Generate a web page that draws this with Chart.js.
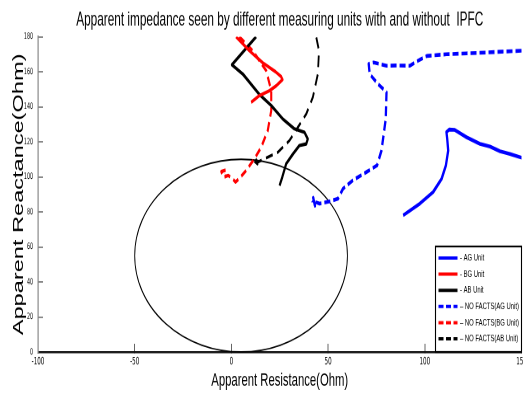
<!DOCTYPE html>
<html>
<head>
<meta charset="utf-8">
<script src="https://cdn.jsdelivr.net/npm/chart.js@4.4.1/dist/chart.umd.min.js"></script>
<style>
  html, body { margin: 0; padding: 0; background: #fff; overflow: hidden; }
  #chart { display: block; }
</style>
</head>
<body>
<!-- the source figure is stretched vertically, so the canvas is too -->
<canvas id="chart" width="530" height="239" style="width:530px;height:394px"></canvas>
<script>
// --- values (Ohm) ---
const legendLabels = ['- AG Unit', '- BG Unit', '- AB Unit',
  '\u2013 NO FACTS(AG Unit)', '\u2013 NO FACTS(BG Unit)', '\u2013 NO FACTS(AB Unit)'];

const agX = [88.8, 97.4, 104.3, 108.7, 110.9, 112.1, 111.6, 111.2, 112.6, 115.5, 121.6, 128.5, 133.7, 138.9, 144, 150.1];
const agY = [78, 84.7, 91.3, 98.9, 106.5, 115, 121.6, 125.5, 127, 126.8, 122.6, 118.8, 117.3, 114.6, 113.1, 110.9];

const bgX = [2.4, 9.3, 16.2, 22.8, 25.7, 26.4, 23.2, 19.7, 14.5, 10.2];
const bgY = [180, 172, 165.1, 160, 157.2, 155.5, 152, 149.2, 146.4, 142.5];

const abX = [12.8, 0.3, 5.9, 14.5, 20.6, 26.6, 32.6, 37.8, 39.5, 38.7, 35.2, 31.8, 28.3, 26.3, 24.9];
const abY = [180, 164, 158.7, 147, 140.7, 133, 127.4, 125.4, 121.6, 118.8, 117.9, 113, 107.4, 99.8, 95];

const agNoX = [150, 140, 132, 121.6, 111.2, 101, 96.5, 92.2, 86, 80.2, 73.5, 71, 71.5, 75.8, 80.2, 79.8, 77.6, 75.3, 69.8, 62.8, 57.7, 55.1, 50.8, 45.6, 43, 42.3, 43.2, 41.8];
const agNoY = [172, 171.5, 171, 170.5, 170, 169, 166.3, 163.4, 163.6, 163.4, 165.3, 164.5, 158.7, 153, 148.3, 133, 115, 106.5, 102.7, 98, 93.2, 87.5, 86, 84.7, 85.8, 88, 83.5, 86.5];

const bgNoX = [4.1, 11, 18, 20.6, 20.6, 18.8, 15.4, 11.9, 7.6, 4.1, 2.1, 0.5, -1.6, -4.1, -5.2, -2.6, -3.1];
const bgNoY = [180, 172, 160.6, 149.2, 137.8, 126.4, 116.9, 110.3, 103.6, 99, 97, 99, 100.8, 99.7, 103, 104, 101.4];

const abNoX = [43.9, 45.3, 44.7, 42.1, 38.7, 34.4, 30, 24, 17.1, 13.6, 12.3, 13.5, 11.9];
const abNoY = [179.6, 172, 158.7, 145.4, 135.9, 128.3, 120.7, 114, 110.3, 108.4, 110.5, 107.3, 109];

const xTicks = [-100, -50, 0, 50, 100, 150];
const yTicks = [0, 20, 40, 60, 80, 100, 120, 140, 160, 180];

// mho circle of the relay
const circleCenter = [5, 55];
const circleRadius = 55;

const pts = (xs, ys) => xs.map((x, i) => ({ x: x, y: ys[i] }));

const FONT = "'Liberation Sans', Arial, sans-serif";
const NARROW = "'Liberation Sans Narrow', 'DejaVu Sans Condensed', 'Liberation Sans', sans-serif";

function line(label, xs, ys, color, dash, width) {
  return {
    label: label,
    data: pts(xs, ys),
    borderColor: color,
    backgroundColor: color,
    borderWidth: width,
    borderDash: dash,
    showLine: true,
    pointRadius: 0,
    tension: 0,
    borderJoinStyle: 'round'
  };
}

// --- mho circle, drawn through the scales ---
const circlePlugin = {
  id: 'circle',
  beforeDatasetsDraw(chart) {
    const { ctx, scales: { x, y } } = chart;
    const cx = x.getPixelForValue(circleCenter[0]);
    const cy = y.getPixelForValue(circleCenter[1]);
    const rx = x.getPixelForValue(circleCenter[0] + circleRadius) - cx;
    const ry = cy - y.getPixelForValue(circleCenter[1] + circleRadius);
    ctx.save();
    ctx.beginPath();
    ctx.ellipse(cx, cy, rx, ry, 0, 0, Math.PI * 2);
    ctx.lineWidth = 0.9;
    ctx.strokeStyle = '#000';
    ctx.stroke();
    ctx.restore();
  }
};

// --- boxed legend, bottom right corner of the plot ---
const boxLegend = {
  id: 'boxLegend',
  afterDatasetsDraw(chart) {
    const { ctx, chartArea } = chart;
    const w = 86, h = 64, rowH = 9.8;
    const left = chartArea.right - w, top = chartArea.bottom - h;
    ctx.save();
    ctx.fillStyle = '#fff';
    ctx.fillRect(left, top, w, h);
    ctx.lineWidth = 1.1;
    ctx.strokeStyle = '#000';
    ctx.strokeRect(left, top, w, h);
    ctx.font = '5.9px ' + FONT;
    ctx.textBaseline = 'middle';
    chart.data.datasets.forEach((ds, i) => {
      const yy = top + 7 + i * rowH;
      ctx.beginPath();
      ctx.setLineDash(ds.borderDash.length ? [5, 2.5] : []);
      ctx.lineWidth = 2;
      ctx.strokeStyle = ds.borderColor;
      ctx.moveTo(left + 3, yy);
      ctx.lineTo(left + 22, yy);
      ctx.stroke();
      ctx.fillStyle = '#000';
      ctx.fillText(ds.label, left + 24.5, yy);
    });
    ctx.restore();
  }
};

new Chart(document.getElementById('chart'), {
  type: 'scatter',
  data: {
    datasets: [
      line(legendLabels[0], agX, agY, '#0000ff', [], 2.3),
      line(legendLabels[1], bgX, bgY, '#ff0000', [], 2.1),
      line(legendLabels[2], abX, abY, '#000000', [], 2.1),
      line(legendLabels[3], agNoX, agNoY, '#0000ff', [6, 3], 2.3),
      line(legendLabels[4], bgNoX, bgNoY, '#ff0000', [6, 3.5], 2.1),
      line(legendLabels[5], abNoX, abNoY, '#000000', [7, 4.5], 1.8)
    ]
  },
  options: {
    responsive: false,
    animation: false,
    devicePixelRatio: 2,
    layout: { padding: { left: 0, right: 8.5, top: 0, bottom: 0 } },
    plugins: {
      legend: { display: false },
      tooltip: { enabled: false },
      title: {
        display: true,
        fullSize: false,
        text: 'Apparent impedance seen by different measuring units with and without  IPFC',
        color: '#000',
        font: { family: FONT, size: 11.8, weight: 'normal' },
        padding: { top: 5.2, bottom: 2.9 }
      }
    },
    scales: {
      x: {
        type: 'linear',
        min: -100,
        max: 150,
        afterBuildTicks: s => { s.ticks = xTicks.map(v => ({ value: v })); },
        afterFit: s => { s.height = 25.5; s.paddingLeft = 0; s.paddingRight = 0; },
        border: { color: '#111', width: 1.2 },
        grid: { drawOnChartArea: false, drawTicks: true, tickLength: -5, color: '#666' },
        ticks: { color: '#000', padding: 7, maxRotation: 0, font: { family: NARROW, size: 6.2 } },
        title: {
          display: true,
          text: 'Apparent Resistance(Ohm)',
          color: '#000',
          font: { family: FONT, size: 11.3 },
          padding: { top: 0, bottom: 1.1 }
        }
      },
      y: {
        type: 'linear',
        min: 0,
        max: 180,
        afterBuildTicks: s => { s.ticks = yTicks.map(v => ({ value: v })); },
        afterFit: s => { s.width = 38; },
        border: { color: '#888', width: 1.2 },
        grid: { drawOnChartArea: false, drawTicks: true, tickLength: -5, color: '#888' },
        ticks: { color: '#000', padding: 10, font: { family: NARROW, size: 5.3 } },
        title: {
          display: true,
          text: 'Apparent Reactance(Ohm)',
          color: '#000',
          font: { family: FONT, size: 14.3 },
          padding: { top: 10.4, bottom: 0 }
        }
      }
    }
  },
  plugins: [circlePlugin, boxLegend]
});
</script>
</body>
</html>
